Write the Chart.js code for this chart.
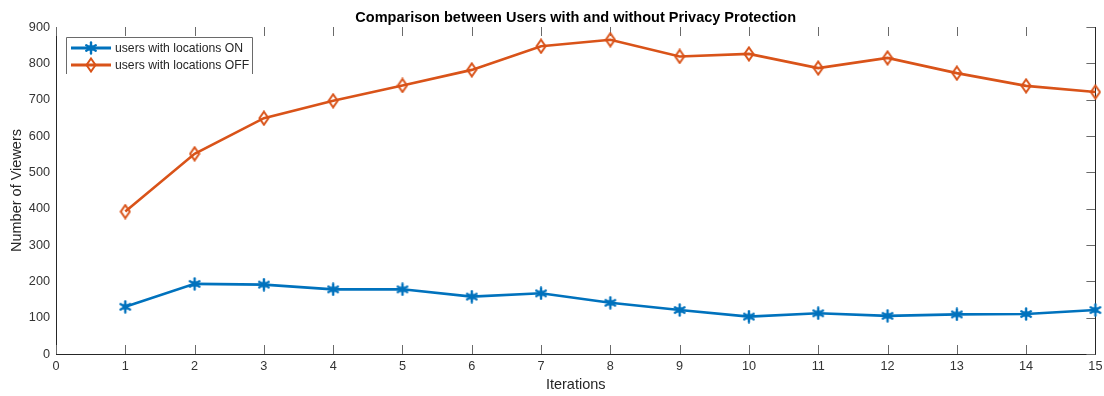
<!DOCTYPE html>
<html>
<head>
<meta charset="utf-8">
<title>Comparison between Users with and without Privacy Protection</title>
<script src="https://cdn.jsdelivr.net/npm/chart.js@4.4.1/dist/chart.umd.min.js"></script>
<style>
  html, body { margin:0; padding:0; background:#fff; }
  #wrap { position:relative; width:1104px; height:396px; }
</style>
</head>
<body>
<div id="wrap"><canvas id="viewers"></canvas></div>
<script>
/* dados: número de visualizadores por iteração */
const iterations = [1, 2, 3, 4, 5, 6, 7, 8, 9, 10, 11, 12, 13, 14, 15];
const viewersOn  = [130, 193, 191, 178, 178, 158, 167, 141, 121, 103, 112, 105, 109, 110, 121];
const viewersOff = [392, 551, 649, 697, 739, 782, 847, 865, 819, 826, 787, 815, 773, 738, 721];
const seriesNames = ['users with locations ON', 'users with locations OFF'];
const chartTitle = 'Comparison between Users with and without Privacy Protection';
const xTitle = 'Iterations';
const yTitle = 'Number of Viewers';
const xTicks = [0, 1, 2, 3, 4, 5, 6, 7, 8, 9, 10, 11, 12, 13, 14, 15];
const yTicks = [0, 100, 200, 300, 400, 500, 600, 700, 800, 900];

const BLUE = '#0072BD', ORANGE = '#D95319';
const FONT = "'Liberation Sans', Arial, Helvetica, sans-serif";

/* marcadores estilo MATLAB: asterisco e losango vazado */
function starMarker(){
  const c = document.createElement('canvas'); c.width = 14; c.height = 14;
  const g = c.getContext('2d');
  g.strokeStyle = BLUE; g.lineWidth = 2.4; g.lineCap = 'round';
  g.translate(7, 7);
  for (let i = 0; i < 3; i++){
    const a = Math.PI / 2 + i * Math.PI / 3;
    g.beginPath();
    g.moveTo(Math.cos(a) * 5.5, Math.sin(a) * 5.5);
    g.lineTo(-Math.cos(a) * 5.5, -Math.sin(a) * 5.5);
    g.stroke();
  }
  g.fillStyle = BLUE; g.beginPath(); g.arc(0, 0, 3, 0, Math.PI * 2); g.fill();
  return c;
}
function diamondMarker(){
  const c = document.createElement('canvas'); c.width = 12; c.height = 16;
  const g = c.getContext('2d');
  g.strokeStyle = ORANGE; g.lineWidth = 2;
  g.beginPath();
  g.moveTo(6, 1.5); g.lineTo(10.5, 8); g.lineTo(6, 14.5); g.lineTo(1.5, 8); g.closePath();
  g.stroke();
  return c;
}
const mkOn = starMarker(), mkOff = diamondMarker();

const pts = vals => iterations.map((x, i) => ({ x, y: vals[i] }));

/* título no topo, centrado sobre a área do gráfico */
const titlePlugin = {
  id: 'topTitle',
  afterDraw(chart){
    const { ctx, chartArea } = chart;
    ctx.save();
    ctx.font = 'bold 14.5px ' + FONT;
    ctx.fillStyle = '#000';
    ctx.textAlign = 'center'; ctx.textBaseline = 'middle';
    ctx.fillText(chartTitle, (chartArea.left + chartArea.right) / 2, 18);
    ctx.restore();
  }
};

/* marcas para dentro (topo, base e lado direito) + eixo direito */
const framePlugin = {
  id: 'frame',
  beforeDatasetsDraw(chart){
    const { ctx, chartArea: a, scales: { x, y } } = chart;
    ctx.save();
    ctx.strokeStyle = '#6a6a6a'; ctx.lineWidth = 1;
    ctx.beginPath();
    xTicks.forEach(v => {
      const px = Math.round(x.getPixelForValue(v)) + 0.5;
      ctx.moveTo(px, a.top); ctx.lineTo(px, a.top + 9);
      ctx.moveTo(px, a.bottom); ctx.lineTo(px, a.bottom - 9);
    });
    yTicks.forEach(v => {
      const py = Math.round(y.getPixelForValue(v)) + 0.5;
      ctx.moveTo(a.right, py); ctx.lineTo(a.right - 9, py);
    });
    ctx.stroke();
    ctx.strokeStyle = '#262626';
    ctx.beginPath();
    ctx.moveTo(Math.round(a.right) + 0.5, a.top); ctx.lineTo(Math.round(a.right) + 0.5, a.bottom);
    ctx.stroke();
    ctx.restore();
  }
};

/* legenda dentro da área, canto superior esquerdo */
const legendPlugin = {
  id: 'boxLegend',
  afterDatasetsDraw(chart){
    const { ctx } = chart;
    const L = 66, T = 37, R = 252, B = 74;
    ctx.save();
    ctx.fillStyle = '#fff';
    ctx.fillRect(L, T, R - L, B - T);
    ctx.strokeStyle = '#6a6a6a'; ctx.lineWidth = 1;
    ctx.beginPath();
    ctx.moveTo(L + 0.5, B); ctx.lineTo(L + 0.5, T + 0.5); ctx.lineTo(R + 0.5, T + 0.5); ctx.lineTo(R + 0.5, B);
    ctx.stroke();
    chart.data.datasets.forEach((ds, i) => {
      const yy = i === 0 ? 48 : 65;
      ctx.strokeStyle = ds.borderColor; ctx.lineWidth = 3;
      ctx.beginPath(); ctx.moveTo(71, yy); ctx.lineTo(111, yy); ctx.stroke();
      const mk = ds.pointStyle;
      ctx.drawImage(mk, 91 - mk.width / 2, yy - mk.height / 2);
      ctx.font = '12.2px ' + FONT;
      ctx.fillStyle = '#262626';
      ctx.textAlign = 'left'; ctx.textBaseline = 'middle';
      ctx.fillText(ds.label, 115, yy + 1);
    });
    ctx.restore();
  }
};

new Chart(document.getElementById('viewers'), {
  type: 'line',
  data: {
    datasets: [
      { label: seriesNames[0], data: pts(viewersOn), borderColor: BLUE, backgroundColor: BLUE,
        borderWidth: 2.6, pointStyle: mkOn, pointRadius: 6, tension: 0, clip: false },
      { label: seriesNames[1], data: pts(viewersOff), borderColor: ORANGE, backgroundColor: ORANGE,
        borderWidth: 2.6, pointStyle: mkOff, pointRadius: 6, tension: 0, clip: false }
    ]
  },
  options: {
    responsive: true, maintainAspectRatio: false, animation: false,
    layout: { padding: { top: 27, right: 3, left: 0, bottom: 0 } },
    plugins: { legend: { display: false }, tooltip: { enabled: false }, title: { display: false } },
    scales: {
      x: {
        type: 'linear', min: 0, max: 15,
        afterBuildTicks: s => { s.ticks = xTicks.map(v => ({ value: v })); },
        afterFit: s => { s.height = 42; s.paddingLeft = 0; s.paddingRight = 0; },
        grid: { display: false, drawTicks: false },
        border: { display: true, color: '#262626', width: 1 },
        ticks: { color: '#333', font: { family: FONT, size: 12.7 }, padding: 5, maxRotation: 0, autoSkip: false },
        title: { display: true, text: xTitle, color: '#262626', font: { family: FONT, size: 14.5 }, padding: { top: 0, bottom: 2 } }
      },
      y: {
        min: 0, max: 900,
        afterBuildTicks: s => { s.ticks = yTicks.map(v => ({ value: v })); },
        afterFit: s => { s.width = 56; },
        grid: { display: false, drawTicks: false },
        border: { display: true, color: '#262626', width: 1 },
        ticks: { color: '#333', font: { family: FONT, size: 12.7 }, padding: 6, autoSkip: false },
        title: { display: true, text: yTitle, color: '#262626', font: { family: FONT, size: 14.5 }, padding: { top: 8, bottom: 0 } }
      }
    }
  },
  plugins: [framePlugin, legendPlugin, titlePlugin]
});
</script>
</body>
</html>
